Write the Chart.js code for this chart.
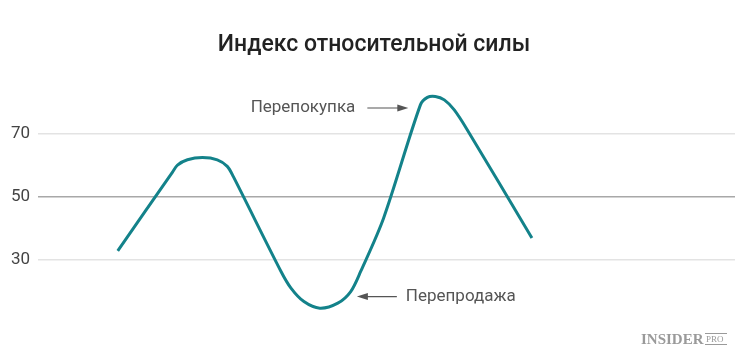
<!DOCTYPE html>
<html>
<head>
<meta charset="utf-8">
<script src="https://cdn.jsdelivr.net/npm/chart.js@4/dist/chart.umd.min.js"></script>
<style>
    html, body { margin: 0; padding: 0; background: #fff; }
    #wrap { position: relative; width: 750px; height: 362px; }
</style>
</head>
<body>
<div id="wrap"><canvas id="rsiChart" width="750" height="362"></canvas></div>
<script>
// ============================================
// Data
// ============================================
var days = [8.0, 13.5, 14.0, 15.0, 16.5, 18.0, 19.0, 19.6, 24.4, 25.4, 26.7, 28.3, 30.1, 31.4, 32.4,
            34.7, 38.4, 39.1, 39.9, 40.8, 41.8, 43.1, 49.6];
var rsiValues = [32.7, 57.8, 60.0, 61.7, 62.4, 61.7, 59.6, 56.4, 26.1, 20.8, 16.5, 14.4, 16.0, 19.7, 26.1,
                 43.1, 79.2, 81.6, 81.9, 80.8, 77.6, 71.3, 36.8];
var yTicks = [30, 50, 70];
var chartTitle = 'Индекс относительной силы';
var overboughtLabel = 'Перепокупка';
var oversoldLabel = 'Перепродажа';

var points = days.map(function(d, i) {
    return { x: d, y: rsiValues[i] };
});

// index of the highest and lowest values, used to anchor the notes
var peakIndex = rsiValues.indexOf(Math.max.apply(null, rsiValues));
var troughIndex = rsiValues.indexOf(Math.min.apply(null, rsiValues));

// ============================================
// Helpers
// ============================================
function drawArrow(ctx, x1, y, x2) {
    var dir = x2 > x1 ? 1 : -1;
    ctx.beginPath();
    ctx.moveTo(x1, y);
    ctx.lineTo(x2 - dir * 8, y);
    ctx.stroke();
    ctx.beginPath();
    ctx.moveTo(x2, y);
    ctx.lineTo(x2 - dir * 11, y - 3.5);
    ctx.lineTo(x2 - dir * 11, y + 3.5);
    ctx.closePath();
    ctx.fill();
}

var decorPlugin = {
    id: 'decor',
    afterDraw: function(chart) {
        var ctx = chart.ctx;
        var meta = chart.getDatasetMeta(0);
        var peak = meta.data[peakIndex];
        var trough = meta.data[troughIndex];

        ctx.save();

        // title
        ctx.fillStyle = '#222';
        ctx.font = '500 23px Roboto';
        ctx.textAlign = 'center';
        ctx.textBaseline = 'alphabetic';
        ctx.fillText(chartTitle, 374, 51);

        // notes with arrows
        ctx.fillStyle = '#555';
        ctx.strokeStyle = '#555';
        ctx.lineWidth = 1.2;
        ctx.font = '17px Roboto';
        ctx.textBaseline = 'middle';

        var oy = peak.y + 11.6;
        ctx.textAlign = 'right';
        ctx.fillText(overboughtLabel, peak.x - 80, oy);
        drawArrow(ctx, peak.x - 68, oy, peak.x - 27);

        var sy = trough.y - 11.6;
        ctx.textAlign = 'left';
        ctx.fillText(oversoldLabel, trough.x + 86, sy);
        drawArrow(ctx, trough.x + 77, sy, trough.x + 37);

        // logo
        ctx.fillStyle = '#9a9a9a';
        ctx.strokeStyle = '#9a9a9a';
        ctx.textBaseline = 'alphabetic';
        ctx.textAlign = 'left';
        ctx.font = 'bold 15px "Liberation Serif"';
        ctx.fillText('INSIDER', 641, 344);
        ctx.font = '9px "Liberation Serif"';
        ctx.fillText('PRO', 706, 342);
        ctx.lineWidth = 1;
        ctx.beginPath();
        ctx.moveTo(705, 333.5);
        ctx.lineTo(727, 333.5);
        ctx.moveTo(705, 344.5);
        ctx.lineTo(727, 344.5);
        ctx.stroke();

        ctx.restore();
    }
};

// ============================================
// Chart
// ============================================
new Chart(document.getElementById('rsiChart'), {
    type: 'line',
    data: {
        datasets: [{
            data: points,
            borderColor: '#13828a',
            borderWidth: 3,
            pointRadius: 0,
            fill: false,
            tension: 0.3
        }]
    },
    options: {
        responsive: false,
        animation: false,
        layout: {
            padding: { top: 71, bottom: 40, left: 3, right: 15 }
        },
        plugins: {
            legend: { display: false },
            title: { display: false },
            tooltip: { enabled: false }
        },
        scales: {
            x: {
                type: 'linear',
                min: 0,
                max: 70,
                display: false
            },
            y: {
                min: 10,
                max: 90,
                afterBuildTicks: function(axis) {
                    axis.ticks = yTicks.map(function(v) { return { value: v }; });
                },
                border: { display: false },
                grid: {
                    drawTicks: false,
                    color: function(c) {
                        return c.tick && c.tick.value === 50 ? '#a8a8a8' : '#e3e3e3';
                    },
                    lineWidth: function(c) {
                        return c.tick && c.tick.value === 50 ? 1.6 : 1.4;
                    }
                },
                ticks: {
                    color: '#444',
                    padding: 8,
                    font: { family: 'Roboto', size: 17 }
                }
            }
        }
    },
    plugins: [decorPlugin]
});
</script>
</body>
</html>
